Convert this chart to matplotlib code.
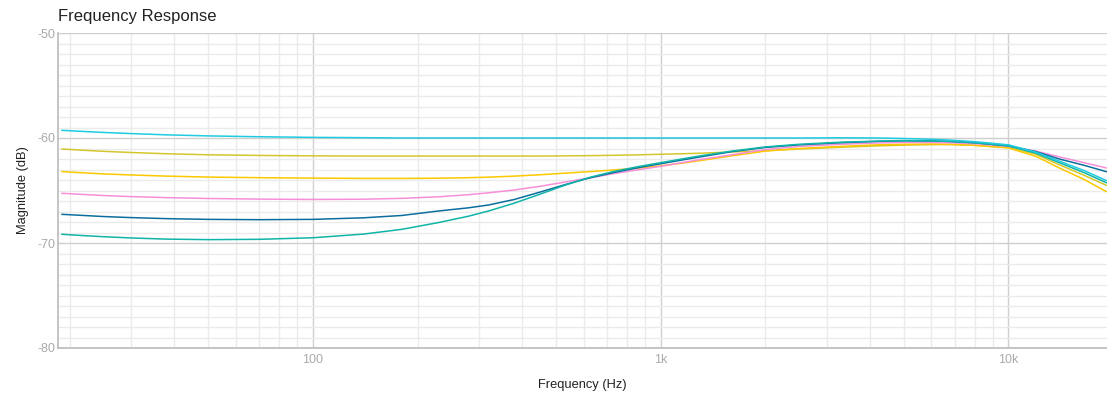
import matplotlib
matplotlib.use("Agg")
import matplotlib.pyplot as plt
from matplotlib.ticker import FixedLocator, NullFormatter, FuncFormatter

freq = [19, 22, 25, 30, 38, 50, 70, 100, 140, 180, 230, 280, 320, 380, 450, 530,
        625, 730, 870, 1000, 1150, 1300, 1600, 2000, 2500, 3300, 4200, 5000, 6000,
        6800, 8000, 10000, 12000, 14000, 16500, 19100]

# magnitude (dB) per curve
cyan = [-59.27, -59.38, -59.47, -59.58, -59.7, -59.8, -59.88, -59.94, -59.97, -60.0,
        -60.0, -60.0, -60.0, -60.0, -60.0, -60.0, -60.0, -60.0, -60.0, -60.0,
        -60.0, -60.0, -60.0, -60.0, -60.0, -59.98, -60.0, -60.05, -60.12, -60.2,
        -60.35, -60.65, -61.35, -62.2, -63.1, -64.05]
olive = [-61.05, -61.17, -61.27, -61.38, -61.5, -61.6, -61.66, -61.7, -61.72, -61.72,
         -61.72, -61.72, -61.72, -61.72, -61.72, -61.7, -61.68, -61.65, -61.6, -61.55,
         -61.5, -61.45, -61.33, -61.2, -61.05, -60.88, -60.75, -60.68, -60.63, -60.63,
         -60.7, -60.9, -61.55, -62.55, -63.55, -64.5]
gold = [-63.2, -63.32, -63.42, -63.52, -63.63, -63.72, -63.78, -63.82, -63.85, -63.85,
        -63.83, -63.78, -63.73, -63.63, -63.5, -63.35, -63.2, -63.05, -62.85, -62.65,
        -62.4, -62.15, -61.7, -61.25, -61.0, -60.8, -60.65, -60.6, -60.58, -60.6,
        -60.7, -60.95, -61.75, -62.85, -63.95, -65.1]
pink = [-65.27, -65.38, -65.48, -65.58, -65.68, -65.76, -65.82, -65.85, -65.83, -65.75,
        -65.6, -65.4, -65.22, -64.95, -64.6, -64.2, -63.8, -63.4, -63.0, -62.7,
        -62.35, -62.05, -61.6, -61.1, -60.8, -60.6, -60.47, -60.42, -60.42, -60.45,
        -60.55, -60.8, -61.25, -61.8, -62.35, -62.85]
darkblue = [-67.27, -67.38, -67.48, -67.58, -67.68, -67.75, -67.78, -67.75, -67.6, -67.38,
            -66.95, -66.65, -66.38, -65.85, -65.15, -64.45, -63.8, -63.3, -62.8, -62.45,
            -62.1, -61.8, -61.3, -60.9, -60.65, -60.45, -60.32, -60.27, -60.28, -60.32,
            -60.45, -60.75, -61.3, -62.0, -62.6, -63.2]
teal = [-69.17, -69.3, -69.4, -69.52, -69.63, -69.68, -69.65, -69.5, -69.15, -68.7,
        -68.05, -67.45, -66.95, -66.2, -65.35, -64.5, -63.75, -63.2, -62.7, -62.35,
        -62.0, -61.7, -61.25, -60.85, -60.6, -60.4, -60.3, -60.25, -60.28, -60.33,
        -60.45, -60.75, -61.45, -62.35, -63.3, -64.25]

series = [(olive, "#d4c72b"), (gold, "#fcc800"), (pink, "#f78fd8"),
          (darkblue, "#0b6e9e"), (teal, "#10b4a8"), (cyan, "#1ecbe1")]

plt.rcParams['font.family'] = ['Liberation Sans', 'DejaVu Sans']
plt.rcParams['axes.unicode_minus'] = False

fig = plt.figure(figsize=(11.07, 3.98), dpi=100)
ax = fig.add_axes([58 / 1107, 1 - 348 / 398, 1 - 58 / 1107, (348 - 33) / 398])

for vals, col in series:
    ax.plot(freq, vals, color=col, lw=1.1)

ax.set_xscale("log")
ax.set_xlim(18.5, 19200)
ax.set_ylim(-80, -50)

# x grid: decades major, 2..9 minor
ax.xaxis.set_major_locator(FixedLocator([100, 1000, 10000]))
ax.xaxis.set_major_formatter(FuncFormatter(lambda v, p: {100: "100", 1000: "1k", 10000: "10k"}.get(int(round(v)), "")))
minor_x = [m * d for d in (10, 100, 1000, 10000) for m in range(2, 10)]
ax.xaxis.set_minor_locator(FixedLocator(minor_x))
ax.xaxis.set_minor_formatter(NullFormatter())

ax.yaxis.set_major_locator(FixedLocator([-80, -70, -60, -50]))
ax.yaxis.set_minor_locator(FixedLocator([v for v in range(-80, -49) if v % 10 != 0]))

ax.grid(which="major", color="#cfcfcf", lw=1.0)
ax.grid(which="minor", color="#ebebeb", lw=1.0)
ax.set_axisbelow(True)

for s in ("top", "right"):
    ax.spines[s].set_visible(False)
for s in ("left", "bottom"):
    ax.spines[s].set_color("#bbbbbb")
    ax.spines[s].set_linewidth(1.2)

ax.tick_params(which="both", length=0, colors="#aaaaaa", labelsize=9)
ax.tick_params(axis="x", pad=4)
ax.tick_params(axis="y", pad=2)

ax.set_xlabel("Frequency (Hz)", fontsize=9.3, color="#222222", labelpad=10)
ax.set_ylabel("Magnitude (dB)", fontsize=9.3, color="#222222", labelpad=6)
fig.text(58 / 1107, 1 - 16 / 398, "Frequency Response", fontsize=12,
         color="#222222", ha="left", va="center")

fig.savefig("out.png", dpi=100)
